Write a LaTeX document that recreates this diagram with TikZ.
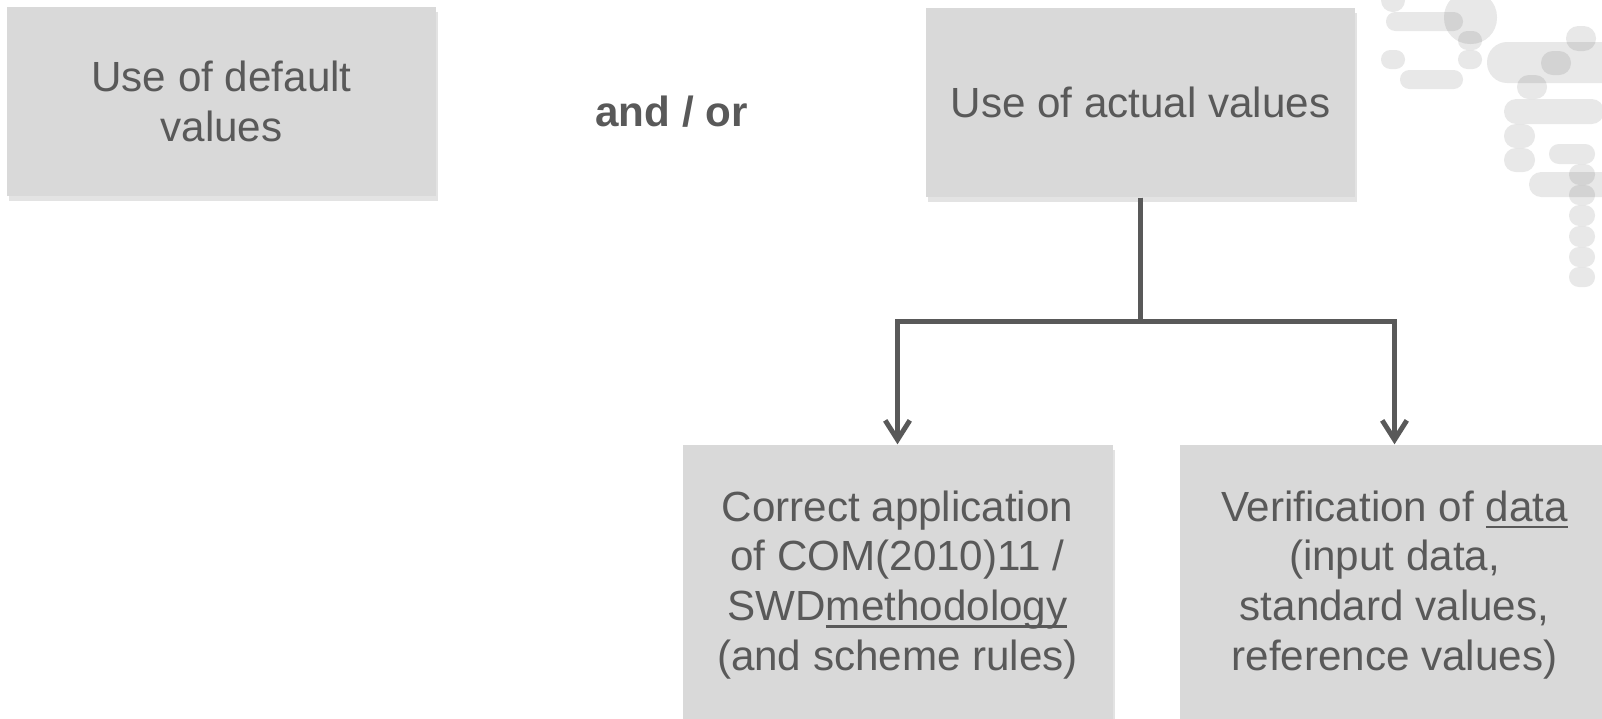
\documentclass[tikz,border=0pt]{standalone}
\usepackage{fontspec}
\setmainfont{Liberation Sans}
\usetikzlibrary{arrows.meta,shadows}
\definecolor{boxgray}{HTML}{D9D9D9}
\definecolor{textgray}{HTML}{595959}
\newcommand{\ulword}[1]{\setbox0\hbox{#1}\rlap{\rule[-2pt]{\wd0}{0.7pt}}\box0}
\tikzset{
  valuebox/.style={rectangle,fill=boxgray,text=textgray,align=center,
    minimum width=4.29cm,minimum height=1.89cm,inner sep=0pt,
    font=\fontsize{12}{14.2}\selectfont,
    drop shadow={shadow xshift=0.2mm,shadow yshift=-0.5mm,opacity=0.22}},
  checkbox/.style={valuebox,minimum width=4.30cm,minimum height=2.80cm,xshift=0.055cm},
  andor/.style={text=textgray,font=\fontsize{12}{14.2}\selectfont\bfseries,inner sep=0pt},
  link/.style={draw=textgray,line width=1.4pt,-{Straight Barb[length=5.5pt,width=7pt]}},
  deco/.style={fill=black,fill opacity=0.09}
}
\begin{document}
\begin{tikzpicture}[level distance=4.825cm,sibling distance=4.97cm]
  \path[use as bounding box,clip] (0,0) rectangle (16.02,-7.18);
  % background pattern, top right
  \foreach \xa/\ya/\xb/\yb in {1381/-12/1405/12, 1386/12/1463/31, 1444/-9/1497/44,
      1458/31/1482/50, 1458/50/1482/69, 1381/50/1405/69, 1400/70/1463/89,
      1487/42/1640/83, 1541/51/1571/75, 1566/26/1596/51, 1517/75/1547/99,
      1504/99/1604/124, 1504/124/1535/148, 1504/148/1535/172, 1549/144/1595/164,
      1529/172/1640/197, 1569/164/1595/185, 1569/185/1595/205, 1569/205/1595/226,
      1569/226/1595/247, 1569/247/1595/267, 1569/267/1595/287}{
    \pgfmathsetmacro{\rr}{min(\xb-\xa,\yb-\ya)*0.49}
    \fill[deco,rounded corners=\rr*0.01cm] (\xa/100,-\ya/100) rectangle (\xb/100,-\yb/100);
  }
  \node[valuebox] (default) at (2.215,-1.015) {Use of default\\values};
  \node[andor,anchor=base] (andor) at (6.715,-1.26) {and / or};
  \node[valuebox] (actual) at (11.405,-1.025) {Use of actual values}
    [edge from parent path={(\tikzparentnode.south) -- ++(0,-1.24) -| (\tikzchildnode.north)}]
    child {node[checkbox] (method) {Correct application\\of COM(2010)11 /\\SWD\ulword{methodology}\\(and scheme rules)}
           edge from parent[link]}
    child {node[checkbox] (data) {Verification of \ulword{data}\\(input data,\\standard values,\\reference values)}
           edge from parent[link]};
\end{tikzpicture}
\end{document}
